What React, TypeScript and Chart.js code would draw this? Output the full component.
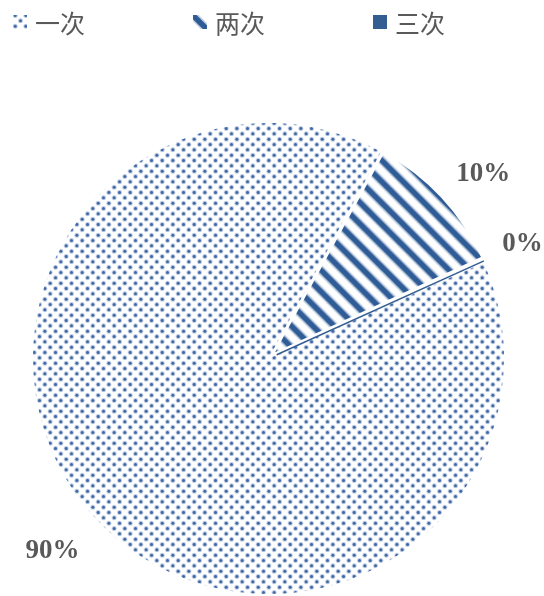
import { useEffect, useRef } from "react";
import { Chart, registerables } from "chart.js";

Chart.register(...registerables);

const categories = ["一次", "两次", "三次"];
const values = [89.6, 10.2, 0.2];
const percentLabels = ["90%", "10%", "0%"];
const explode = [0, 36, 36];

const TEXT = "#595959";
const DOT = "#4069A8";
const STRIPE = "#2F5C97";
const SOLID = "#345E92";

const W = 544;
const H = 596;
const RADIUS = 235.5;

function makeDots(ctx: CanvasRenderingContext2D): CanvasPattern {
  const S = 32;
  const P = S / 3;
  const c = document.createElement("canvas");
  c.width = S;
  c.height = S;
  const g = c.getContext("2d")!;
  g.fillStyle = "#fff";
  g.fillRect(0, 0, S, S);
  const pts: [number, number][] = [];
  for (let i = -1; i <= 3; i++) {
    for (let j = -1; j <= 3; j++) {
      pts.push([2.2 + i * P, 0.5 + j * P]);
      pts.push([7.5 + i * P, 5.8 + j * P]);
    }
  }
  for (const [x, y] of pts) {
    g.fillStyle = "rgba(79,118,176,0.35)";
    g.beginPath();
    g.arc(x, y, 2.5, 0, Math.PI * 2);
    g.fill();
    g.fillStyle = DOT;
    g.beginPath();
    g.arc(x, y, 1.5, 0, Math.PI * 2);
    g.fill();
  }
  return ctx.createPattern(c, "repeat")!;
}

function makeStripes(ctx: CanvasRenderingContext2D): CanvasPattern {
  const S = 64;
  const P = S / 3;
  const c = document.createElement("canvas");
  c.width = S;
  c.height = S;
  const g = c.getContext("2d")!;
  g.fillStyle = "#fff";
  g.fillRect(0, 0, S, S);
  for (let k = -8; k <= 8; k++) {
    const cc = 16.7 + k * P;
    for (const [lw, col] of [
      [8.5, "rgba(47,92,151,0.3)"],
      [5.5, STRIPE],
    ] as [number, string][]) {
      g.strokeStyle = col;
      g.lineWidth = lw;
      g.beginPath();
      g.moveTo(cc - 20, -20);
      g.lineTo(cc + S + 20, S + 20);
      g.stroke();
    }
  }
  return ctx.createPattern(c, "repeat")!;
}

export default function App() {
  const ref = useRef<HTMLCanvasElement>(null);

  useEffect(() => {
    const canvas = ref.current!;
    const ctx = canvas.getContext("2d")!;
    const dots = makeDots(ctx);
    const stripes = makeStripes(ctx);
    const fills: (CanvasPattern | string)[] = [dots, stripes, SOLID];

    const explodedRadius = {
      id: "explodedRadius",
      beforeDatasetsDraw(chart: any) {
        const meta = chart.getDatasetMeta(0);
        meta.data.forEach((arc: any, i: number) => {
          const o = explode[i] / 4;
          if (!o) return;
          const circ = arc.endAngle - arc.startAngle;
          const fix = 1 - Math.sin(Math.min(Math.PI, circ));
          arc.outerRadius = RADIUS - 0.95 * o - o * fix;
        });
      },
    };

    const labelsPlugin = {
      id: "pctLabels",
      afterDatasetsDraw(chart: any) {
        const c = chart.ctx;
        const meta = chart.getDatasetMeta(0);
        c.save();
        c.font = 'bold 27px "Liberation Serif", "Times New Roman", serif';
        c.fillStyle = TEXT;
        c.textAlign = "center";
        c.textBaseline = "middle";
        const turn = [0.02, 0.04, 0];
        const gaps = [25, 20, 20];
        meta.data.forEach((arc: any, i: number) => {
          const mid = (arc.startAngle + arc.endAngle) / 2 + turn[i];
          const cs = Math.cos(mid);
          const sn = Math.sin(mid);
          const t = percentLabels[i];
          const w = c.measureText(t).width;
          const d = RADIUS + gaps[i] + (w / 2) * Math.abs(cs) + 12 * Math.abs(sn);
          c.fillText(t, arc.x + d * cs, arc.y + d * sn + 1);
        });
        c.restore();
      },
    };

    const legendPlugin = {
      id: "patternLegend",
      afterDraw(chart: any) {
        const c = chart.ctx;
        c.save();
        const startX = 13;
        const step = 180;
        const box = 14;
        const cy = 22;
        c.font = '25px "Noto Sans CJK SC", sans-serif';
        c.textBaseline = "middle";
        c.textAlign = "left";
        categories.forEach((name, i) => {
          const x = startX + i * step;
          const y = cy - box / 2;
          const f = fills[i];
          if (typeof f !== "string") {
            const m = new DOMMatrix().translate(x - (i === 1 ? 2 : 0), y + (i === 1 ? 15 : 0));
            (f as any).setTransform(m);
          }
          c.fillStyle = f;
          c.fillRect(x, y, box, box);
          if (typeof f !== "string") (f as any).setTransform(new DOMMatrix());
          c.fillStyle = TEXT;
          c.fillText(name, x + box + 8, cy + 1);
        });
        c.restore();
      },
    };

    const chart = new Chart(canvas, {
      type: "pie",
      data: {
        labels: categories,
        datasets: [
          {
            data: values,
            backgroundColor: fills as any,
            borderWidth: [0, 0, 1.5],
            borderColor: ["#ffffff", "#ffffff", SOLID],
            offset: explode,
          },
        ],
      },
      options: {
        responsive: false,
        animation: false,
        devicePixelRatio: 1,
        rotation: 66,
        radius: RADIUS,
        events: [],
        layout: { padding: { top: 121, bottom: 0, left: 30, right: 37 } },
        plugins: {
          legend: { display: false },
          tooltip: { enabled: false },
          title: { display: false },
        },
      } as any,
      plugins: [explodedRadius, labelsPlugin, legendPlugin],
    });
    return () => chart.destroy();
  }, []);

  return (
    <div style={{ position: "absolute", left: 0, top: 0, width: W, height: H, background: "#fff" }}>
      <canvas ref={ref} width={W} height={H} style={{ display: "block", width: W, height: H }} />
    </div>
  );
}
